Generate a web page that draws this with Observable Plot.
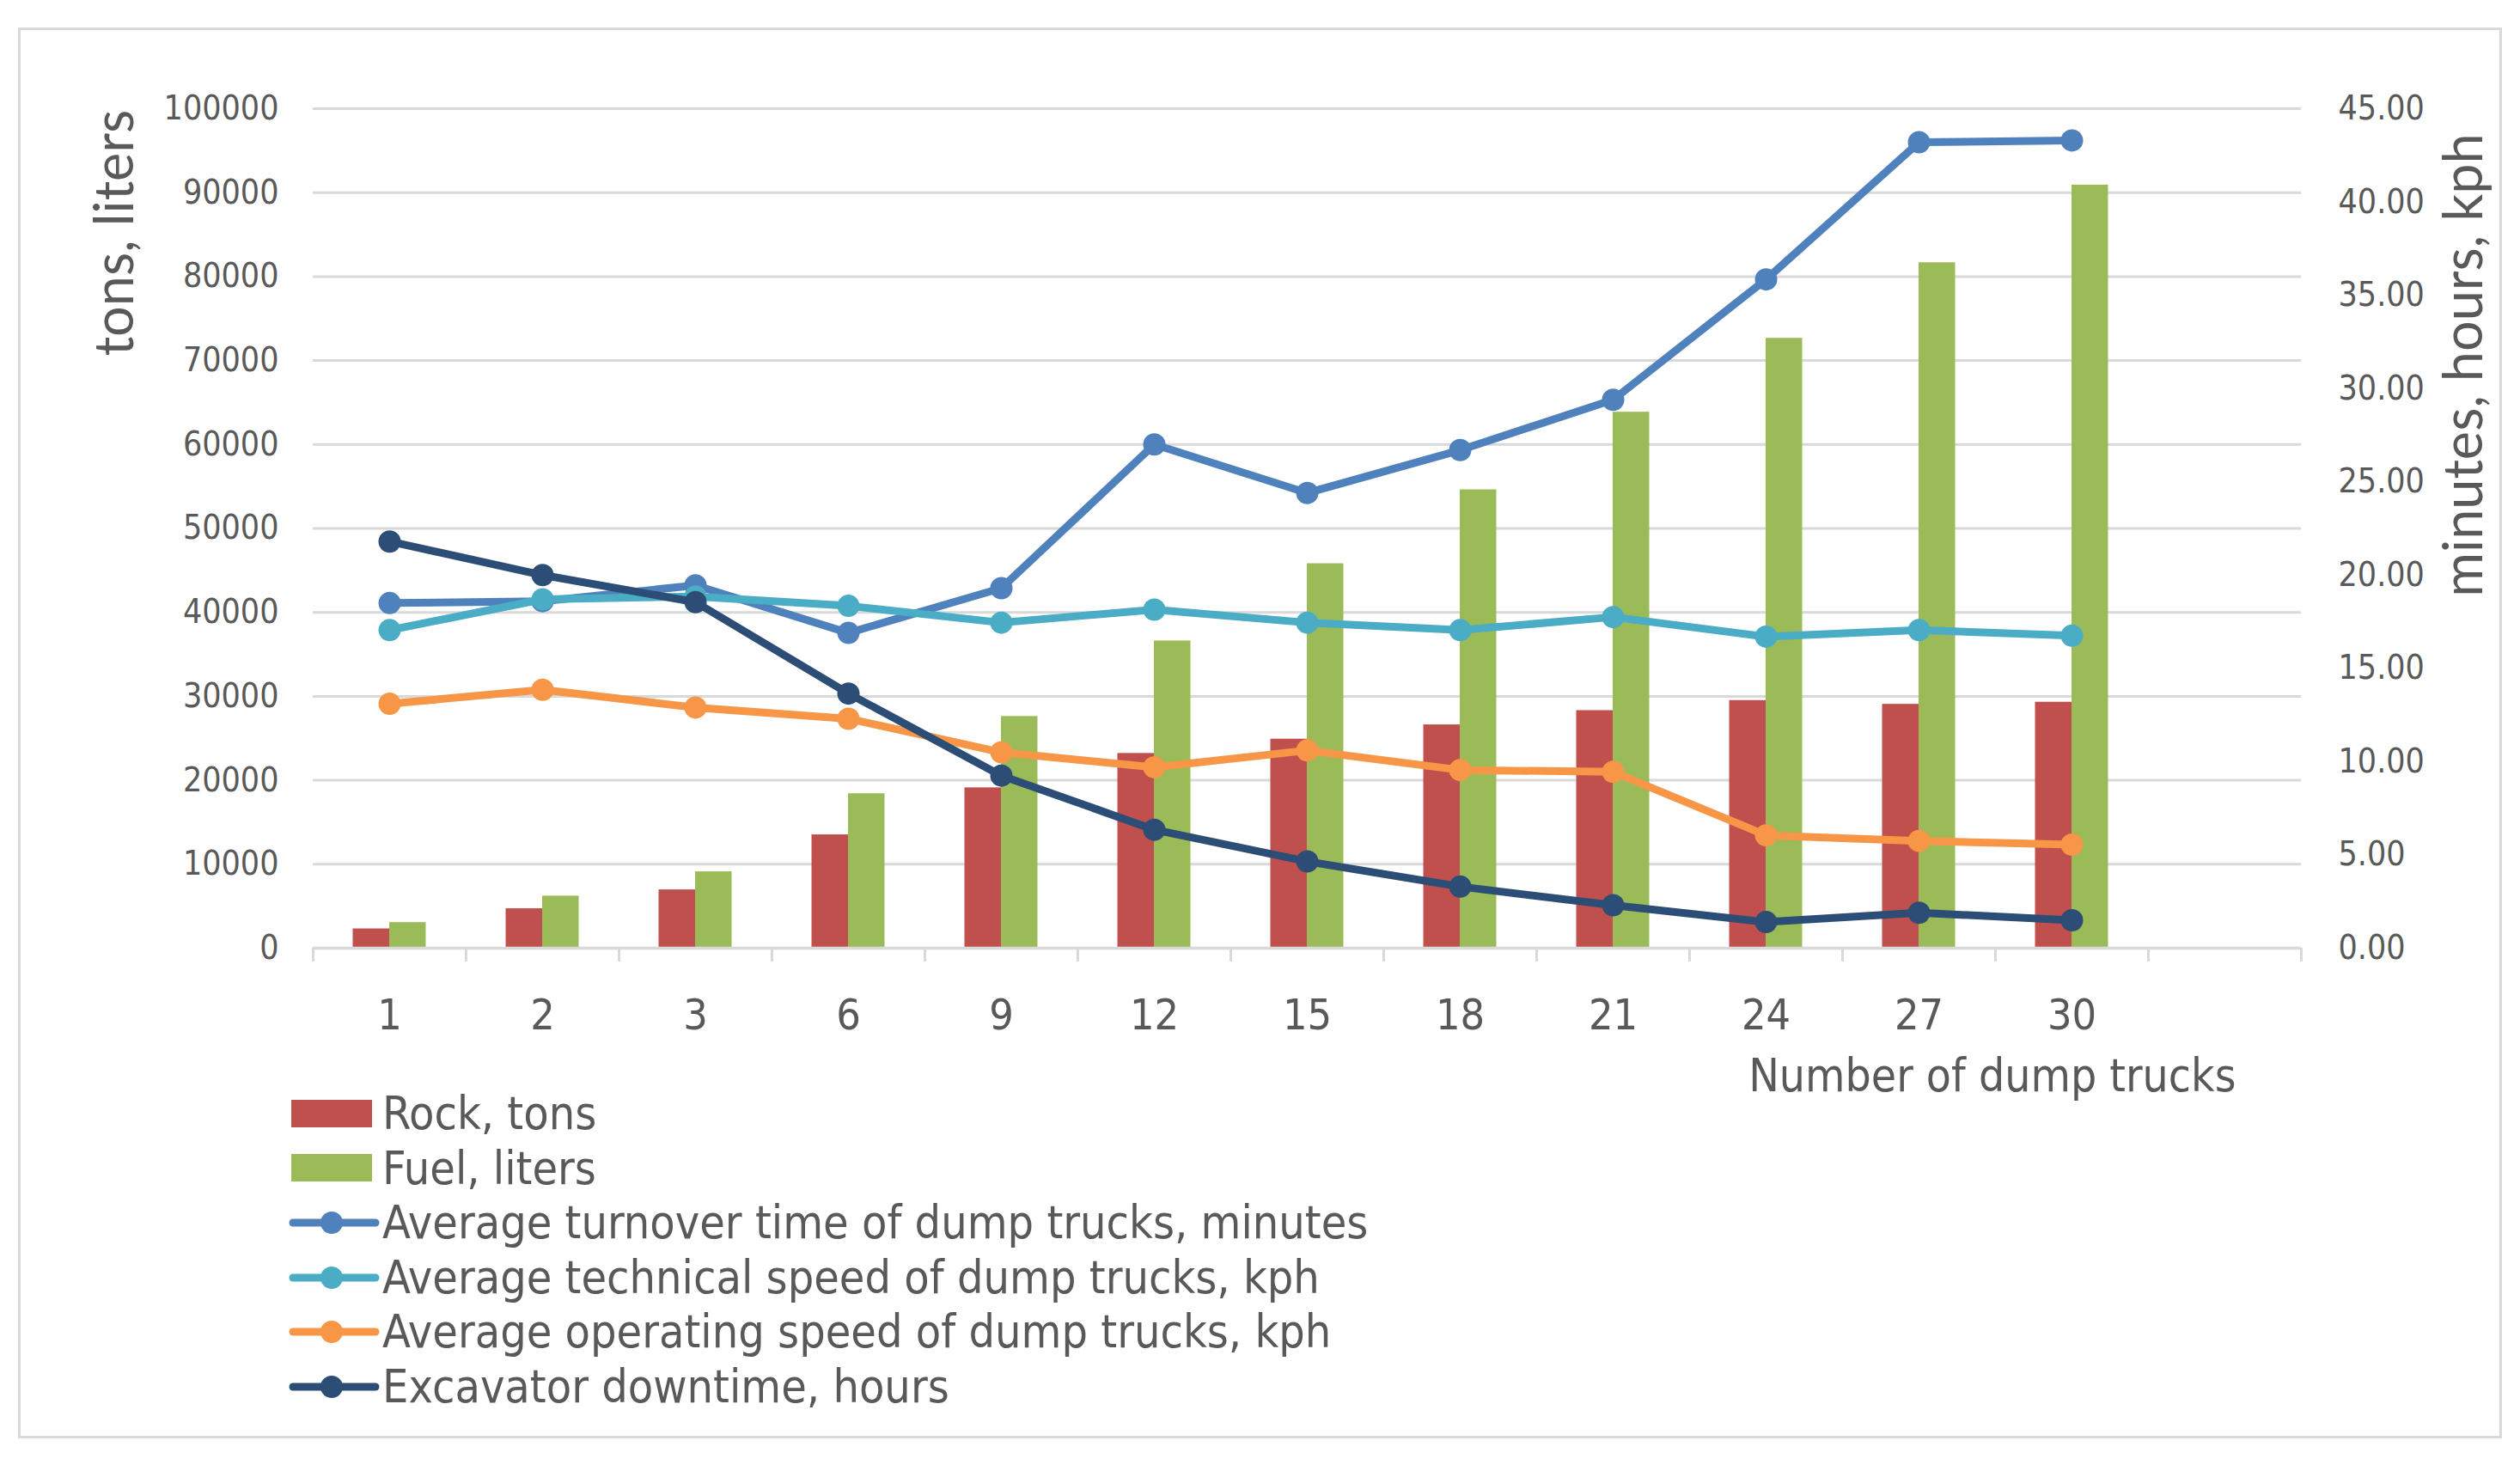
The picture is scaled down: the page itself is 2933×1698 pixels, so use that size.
<!DOCTYPE html>
<html>
<head>
<meta charset="utf-8">
<script src="https://cdn.jsdelivr.net/npm/d3@7"></script>
<script src="https://cdn.jsdelivr.net/npm/@observablehq/plot@0.6"></script>
<style>
  html, body { margin: 0; padding: 0; background: #ffffff; }
  body { width: 2933px; height: 1698px; position: relative; overflow: hidden;
         font-family: "Liberation Sans Narrow", "DejaVu Sans Condensed", sans-serif; color: #595959; }
  #frame { position: absolute; left: 21px; top: 32px; width: 2891px; height: 1642px;
           border: 3px solid #d9d9d9; box-sizing: border-box; }
  #chart { position: absolute; left: 0; top: 0; }
  .ytitle { position: absolute; white-space: nowrap; font-family: Lato, "Open Sans", sans-serif;
            font-size: 63px; color: #595959; transform: translate(-50%, -50%) rotate(-90deg); line-height: 1; }
  #legend { position: absolute; left: 336px; top: 1264px; }
  .row { height: 63.6px; display: flex; align-items: center; }
  .row svg { flex: none; }
  .row span { font-size: 53.5px; line-height: 1; margin-left: 3px; color: #595959; }
</style>
</head>
<body>
<div id="frame"></div>
<div id="chart"></div>
<div class="ytitle" style="left:130px; top:271px;">tons, liters</div>
<div class="ytitle" style="left:2864px; top:425px;">minutes, hours, kph</div>
<div id="legend"></div>
<script>
// ---- data ----
const categories = ["1", "2", "3", "6", "9", "12", "15", "18", "21", "24", "27", "30"];
const rockTons   = [2300, 4700, 6950, 13500, 19100, 23200, 24900, 26600, 28300, 29500, 29050, 29300];
const fuelLiters = [3050, 6200, 9100, 18400, 27600, 36600, 45800, 54600, 63850, 72650, 81650, 90900];
const turnoverMinutes = [18.5, 18.6, 19.45, 16.9, 19.3, 27.0, 24.4, 26.7, 29.4, 35.85, 43.2, 43.3];
const technicalSpeed  = [17.05, 18.7, 18.85, 18.35, 17.45, 18.15, 17.45, 17.05, 17.75, 16.7, 17.05, 16.75];
const operatingSpeed  = [13.1, 13.85, 12.9, 12.3, 10.5, 9.7, 10.6, 9.55, 9.45, 6.05, 5.75, 5.55];
const excavatorDowntime = [21.8, 20.0, 18.55, 13.65, 9.25, 6.35, 4.65, 3.3, 2.3, 1.4, 1.9, 1.5];
const leftTicks  = d3.range(0, 100001, 10000);
const rightTicks = d3.range(0, 45.001, 5);

const barSeries = [
  {name: "Rock, tons",  values: rockTons,   color: "#C0504D"},
  {name: "Fuel, liters", values: fuelLiters, color: "#9BBB59"}
];
const lineSeries = [
  {name: "Average turnover time of dump trucks, minutes", values: turnoverMinutes, color: "#4F81BD"},
  {name: "Average technical speed of dump trucks, kph",   values: technicalSpeed,  color: "#4BACC6"},
  {name: "Average operating speed of dump trucks, kph",   values: operatingSpeed,  color: "#F79646"},
  {name: "Excavator downtime, hours",                     values: excavatorDowntime, color: "#2C4D75"}
];

// ---- layout ----
const W = 2933, H = 1290;
const mL = 364, mR = 255, mT = 126, mB = H - 1103;
const xDomain = [...categories, ""];          // one empty slot at the end, as in the original
const bw = (W - mL - mR) / xDomain.length;
const barW = 42.5;
const k = 100000 / 45;                        // right axis -> left axis units
const grid = "#d9d9d9";

const rows = categories.map((c, i) => ({cat: c, rock: rockTons[i], fuel: fuelLiters[i]}));

const lineMarks = lineSeries.flatMap(s => {
  const data = categories.map((c, i) => ({cat: c, v: s.values[i]}));
  return [
    Plot.line(data, {x: "cat", y: d => d.v * k, stroke: s.color, strokeWidth: 9, strokeLinejoin: "round"}),
    Plot.dot(data, {x: "cat", y: d => d.v * k, r: 13, fill: s.color, stroke: "none"})
  ];
});

const chart = Plot.plot({
  width: W, height: H,
  marginLeft: mL, marginRight: mR, marginTop: mT, marginBottom: mB,
  style: {fontFamily: '"Liberation Sans Narrow", "DejaVu Sans Condensed", sans-serif', color: "#595959", background: "transparent", overflow: "visible"},
  x: {domain: xDomain, padding: 0, axis: null},
  y: {domain: [0, 100000], axis: null},
  marks: [
    Plot.gridY(leftTicks.filter(d => d > 0), {stroke: grid, strokeOpacity: 1, strokeWidth: 3}),
    Plot.axisY(leftTicks, {anchor: "left", tickSize: 0, tickPadding: 40, fontSize: 39, tickFormat: d => String(d), label: null}),
    Plot.axisY(rightTicks, {anchor: "right", y: d => d * k, tickSize: 0, tickPadding: 43, fontSize: 39, tickFormat: d => d.toFixed(2), label: null}),
    Plot.barY(rows, {x: "cat", y: "rock", fill: barSeries[0].color, insetLeft: bw / 2 - barW, insetRight: bw / 2}),
    Plot.barY(rows, {x: "cat", y: "fuel", fill: barSeries[1].color, insetLeft: bw / 2, insetRight: bw / 2 - barW}),
    Plot.ruleY([0], {stroke: grid, strokeWidth: 3.5}),
    Plot.ruleX(xDomain, {x: d => d, dx: -bw / 2, y1: 0, y2: 0, insetBottom: -16, stroke: grid, strokeWidth: 3}),
    Plot.ruleX([""], {x: d => d, dx: bw / 2, y1: 0, y2: 0, insetBottom: -16, stroke: grid, strokeWidth: 3}),
    ...lineMarks,
    Plot.axisX(categories, {anchor: "bottom", tickSize: 0, tickPadding: 59, fontSize: 50, label: null}),
    Plot.text(["Number of dump trucks"], {frameAnchor: "bottom-right", textAnchor: "end", lineAnchor: "middle", dx: -76, dy: 150, fontSize: 53, fill: "#595959"})
  ]
});
document.getElementById("chart").appendChild(chart);

// ---- legend ----
const legend = document.getElementById("legend");
const ns = "http://www.w3.org/2000/svg";
function addRow(color, name, kind) {
  const row = document.createElement("div");
  row.className = "row";
  const svg = document.createElementNS(ns, "svg");
  svg.setAttribute("width", 106); svg.setAttribute("height", 40);
  if (kind === "bar") {
    const r = document.createElementNS(ns, "rect");
    r.setAttribute("x", 3); r.setAttribute("y", 4); r.setAttribute("width", 94); r.setAttribute("height", 32);
    r.setAttribute("fill", color); svg.appendChild(r);
  } else {
    const l = document.createElementNS(ns, "line");
    l.setAttribute("x1", 5); l.setAttribute("x2", 101); l.setAttribute("y1", 20); l.setAttribute("y2", 20);
    l.setAttribute("stroke", color); l.setAttribute("stroke-width", 9); l.setAttribute("stroke-linecap", "round");
    svg.appendChild(l);
    const c = document.createElementNS(ns, "circle");
    c.setAttribute("cx", 50); c.setAttribute("cy", 20); c.setAttribute("r", 13); c.setAttribute("fill", color);
    svg.appendChild(c);
  }
  row.appendChild(svg);
  const t = document.createElement("span");
  t.textContent = name;
  row.appendChild(t);
  legend.appendChild(row);
}
barSeries.forEach(s => addRow(s.color, s.name, "bar"));
lineSeries.forEach(s => addRow(s.color, s.name, "line"));
</script>
</body>
</html>
